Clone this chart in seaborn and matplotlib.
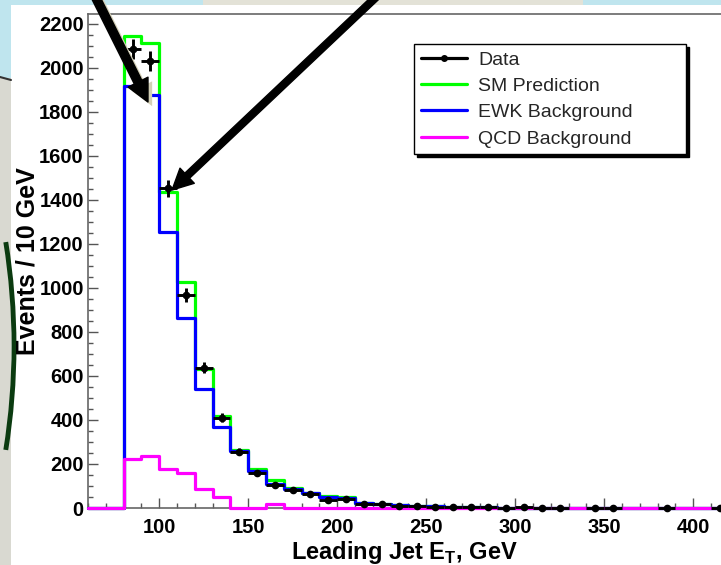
import numpy as np
import pandas as pd
import seaborn as sns
import matplotlib.pyplot as plt
import matplotlib.patches as mpatches
import matplotlib.patheffects as pe
from matplotlib.lines import Line2D
from matplotlib.ticker import MultipleLocator

#-----------------------------------------
# leading jet ET, 10 GeV bins from 60 to 420
#-----------------------------------------
bin_lo = list(range(60, 420, 10))

sm_pred = [0, 0, 2143, 2115, 1435, 1028, 630, 420, 262, 176, 128, 90, 69, 53, 48, 24, 20, 14,
           11, 8, 5, 4, 3, 2, 2, 1.5, 1, 1, 1, 0.5, 0.5, 0.3, 0.3, 0.2, 0.2, 0.1]
ewk_bkg = [0, 0, 1920, 1875, 1253, 865, 541, 370, 257, 170, 109, 88, 67, 52, 47, 24, 20, 14,
           11, 8, 5, 4, 3, 2, 2, 1.5, 1, 1, 1, 0.5, 0.5, 0.3, 0.3, 0.2, 0.2, 0.1]
qcd_bkg = [0, 0, 223, 238, 177, 160, 86, 49, 2, 2, 18, 1, 1, 1, 1, 0.5, 0.5, 0.3,
           0.3, 0.2, 0.2, 0.1, 0.1, 0.1, 0.1, 0, 0, 0, 0, 0, 0, 0, 0, 0, 0, 0]

data_x = [85, 95, 105, 115, 125, 135, 145, 155, 165, 175, 185, 195, 205, 215, 225,
          235, 245, 255, 265, 275, 285, 295, 305, 315, 325, 345, 355, 385, 415]
data_y = [2085, 2030, 1452, 968, 638, 410, 256, 158, 106, 82, 64, 36, 40, 17, 17,
          9, 9, 6, 3, 3, 3, 1, 3, 1, 1, 1, 1, 1, 1]

x_ticks = [100, 150, 200, 250, 300, 350, 400]
y_ticks = [0, 200, 400, 600, 800, 1000, 1200, 1400, 1600, 1800, 2000, 2200]

hist_df = pd.DataFrame({'center': np.array(bin_lo) + 5, 'sm': sm_pred,
                        'ewk': ewk_bkg, 'qcd': qcd_bkg})

sns.set_theme(style='white')
plt.rcParams['font.family'] = ['Liberation Sans', 'DejaVu Sans']
plt.rcParams['font.weight'] = 'bold'
plt.rcParams['mathtext.fontset'] = 'custom'
plt.rcParams['mathtext.rm'] = 'Liberation Sans'
plt.rcParams['mathtext.bf'] = 'Liberation Sans:bold'

W, H = 721, 565
fig = plt.figure(figsize=(W / 100, H / 100), dpi=100)
fig.patch.set_facecolor('#d9d9d1')

# slide background bits around the pad
bg = [
    mpatches.Rectangle((11 / W, 0), 1, 560 / H, facecolor='white'),
    mpatches.Rectangle((0, 560 / H), 203 / W, 1, facecolor='#bfe5ee'),
    mpatches.Rectangle((203 / W, 560 / H), 380 / W, 1, facecolor='#e3e2d7'),
    mpatches.Rectangle((583 / W, 560 / H), 1, 1, facecolor='#bfe5ee'),
    mpatches.Rectangle((0, (H - 78) / H), 11 / W, 1, facecolor='#bfe5ee'),
]
for p in bg:
    p.set_transform(fig.transFigure)
    p.set_edgecolor('none')
    p.set_zorder(-5)
    fig.add_artist(p)
fig.add_artist(Line2D([0, 11 / W], [(H - 77) / H, (H - 80) / H], color='#333333', lw=1.5,
                      transform=fig.transFigure, zorder=-4))
fig.add_artist(mpatches.Arc((-646 / W, (H - 346) / H), 1320 / W, 1320 / H,
                            theta1=-11.5, theta2=11.5, transform=fig.transFigure,
                            edgecolor='#0b3b10', lw=3.5, zorder=-4))

ax = fig.add_axes([88 / W, 1 - 508 / H, (W - 88) / W, (508 - 14) / H])
ax.set_facecolor('white')

lw = 2.3
hist_kw = dict(data=hist_df, x='center', binwidth=10, binrange=(60, 420), element='step',
               fill=False, linewidth=lw, ax=ax, clip_on=False)
sns.histplot(weights='sm', color='#00ff00', zorder=3, **hist_kw)
sns.histplot(weights='ewk', color='#0000ff', zorder=3.1, **hist_kw)
sns.histplot(weights='qcd', color='#ff00ff', zorder=3.2, **hist_kw)

ax.errorbar(data_x, data_y, xerr=5, yerr=np.sqrt(data_y), fmt='o', color='black',
            ms=4.5, elinewidth=2.1, capsize=0, zorder=5, clip_on=False)

ax.set_xlim(60, 60 + (W - 88) / 1.78)
ax.set_ylim(0, 2245)
ax.set_xticks(x_ticks)
ax.set_yticks(y_ticks)
ax.xaxis.set_minor_locator(MultipleLocator(10))
ax.yaxis.set_minor_locator(MultipleLocator(50))
ax.tick_params(which='major', direction='in', length=7, width=1, color='#555555',
               labelsize=14.5, pad=3, labelcolor='black')
ax.tick_params(which='minor', direction='in', length=3.5, width=1, color='#555555')
ax.tick_params(axis='x', which='both', bottom=True, top=False)
ax.tick_params(axis='x', which='major', pad=7)
ax.tick_params(axis='y', which='both', left=True, right=False)
for s in ['left', 'top', 'bottom']:
    ax.spines[s].set_color('#666666')
    ax.spines[s].set_linewidth(1.2)
ax.spines['right'].set_visible(False)

ax.set_xlabel(r'Leading Jet E$_\mathbf{T}$, GeV', fontsize=17, fontweight='bold',
              labelpad=2, color='black')
ax.set_ylabel('Events / 10 GeV', fontsize=18, fontweight='bold', labelpad=0, color='black')

handles = [Line2D([], [], color='black', lw=lw, marker='o', ms=4),
           Line2D([], [], color='#00ff00', lw=lw),
           Line2D([], [], color='#0000ff', lw=lw),
           Line2D([], [], color='#ff00ff', lw=lw)]
labels = ['Data', 'SM Prediction', 'EWK Background', 'QCD Background']
leg = ax.legend(handles, labels, loc='upper left', bbox_to_anchor=(0.515, 0.723, 0.43, 0.216),
                mode='expand', prop={'size': 14, 'weight': 'normal'}, frameon=True,
                fancybox=False, framealpha=1, edgecolor='black', borderpad=0.35,
                labelspacing=0.45, handlelength=2.4, handletextpad=0.55,
                borderaxespad=0, shadow={'color': 'black', 'alpha': 1})
leg.get_frame().set_linewidth(1)
leg.set_zorder(6)

# the two pointer arrows from the slide
ax.annotate('', xy=(93.7, 1845), xycoords='data', xytext=(92 / W, 1 + 10 / H),
            textcoords='figure fraction', annotation_clip=False, zorder=10,
            arrowprops=dict(width=6, headwidth=16, headlength=16, shrink=0,
                            facecolor='black', edgecolor='black',
                            path_effects=[pe.SimplePatchShadow(offset=(3, -3),
                                                               shadow_rgbFace='#d3cfb6', alpha=1),
                                          pe.Normal()]))
ax.annotate('', xy=(107.2, 1445), xycoords='data', xytext=(383.6 / W, 1 + 10 / H),
            textcoords='figure fraction', annotation_clip=False, zorder=10,
            arrowprops=dict(width=5, headwidth=15, headlength=15, shrink=0,
                            facecolor='black', edgecolor='black'))

plt.savefig('out.png', dpi=100, facecolor=fig.get_facecolor())
